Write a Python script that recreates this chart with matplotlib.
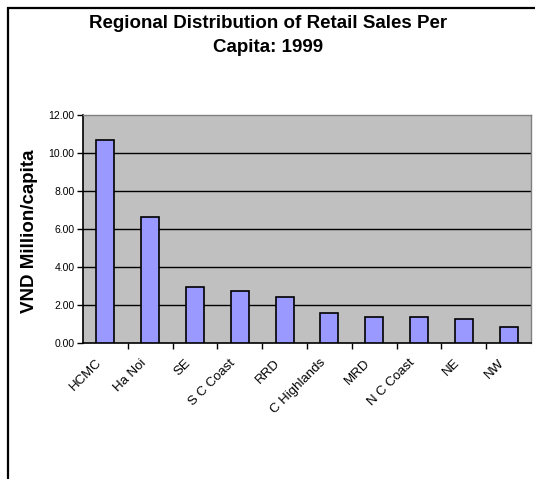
import matplotlib
matplotlib.use("Agg")
import matplotlib.pyplot as plt
from matplotlib.patches import Rectangle
import matplotlib.transforms as mtransforms
import numpy as np

regions = ["HCMC", "Ha Noi", "SE", "S C Coast", "RRD", "C Highlands", "MRD", "N C Coast", "NE", "NW"]
sales = [10.70, 6.62, 2.94, 2.72, 2.40, 1.58, 1.37, 1.35, 1.26, 0.84]
y_ticks = [0, 2, 4, 6, 8, 10, 12]
y_tick_labels = ["0.00", "2.00", "4.00", "6.00", "8.00", "10.00", "12.00"]

W, H = 535, 479
plt.rcParams['font.family'] = ['Liberation Sans', 'DejaVu Sans']
fig = plt.figure(figsize=(W / 100, H / 100), dpi=100)
fig.patch.set_facecolor('white')

left, right, top, bottom = 83, 531, 115, 343
ax = fig.add_axes([left / W, 1 - bottom / H, (right - left) / W, (bottom - top) / H])
ax.set_facecolor('#c0c0c0')

x = np.arange(len(regions))
ax.bar(x, sales, width=0.4, color='#9999ff', edgecolor='black', linewidth=1.2, zorder=3)

ax.set_xlim(-0.5, len(regions) - 0.5)
ax.set_ylim(0, 12)
ax.set_yticks(y_ticks)
ax.set_yticklabels(y_tick_labels, fontsize=7.5)
for yv in y_ticks[1:-1]:
    ax.axhline(yv, color='black', linewidth=1.0, zorder=2)

ax.set_xticks(x)
ax.set_xticklabels(regions, rotation=45, ha='right', va='center', rotation_mode='anchor', fontsize=9.5)
ax.tick_params(axis='x', which='major', length=0, pad=13)
offset = mtransforms.ScaledTranslation(-6 / 100, 0, fig.dpi_scale_trans)
for lbl in ax.get_xticklabels():
    lbl.set_transform(lbl.get_transform() + offset)
ax.set_xticks(np.arange(0.5, len(regions) - 0.5, 1), minor=True)
ax.tick_params(axis='x', which='minor', length=4, width=1, direction='out')
ax.tick_params(axis='y', length=4, width=1, direction='out', pad=2)

for side in ['top', 'right']:
    ax.spines[side].set_color('#808080')
    ax.spines[side].set_linewidth(1.0)
ax.spines['left'].set_color('black')
ax.spines['left'].set_linewidth(1.2)
ax.spines['bottom'].set_color('black')
ax.spines['bottom'].set_linewidth(1.2)

fig.text(30 / W, 1 - 231 / H, "VND Million/capita", ha='center', va='center', rotation=90,
         fontsize=13.5, fontweight='bold')

fig.text(268 / W, 1 - 24 / H, "Regional Distribution of Retail Sales Per", ha='center', va='center',
         fontsize=13.5, fontweight='bold')
fig.text(268 / W, 1 - 47 / H, "Capita: 1999", ha='center', va='center',
         fontsize=13.5, fontweight='bold')

fig.add_artist(Rectangle((8 / W, -0.1), 1.2, 1 - 8 / H + 0.1, transform=fig.transFigure,
                         fill=False, edgecolor='black', linewidth=1.6))

fig.savefig("out.png", dpi=100)
